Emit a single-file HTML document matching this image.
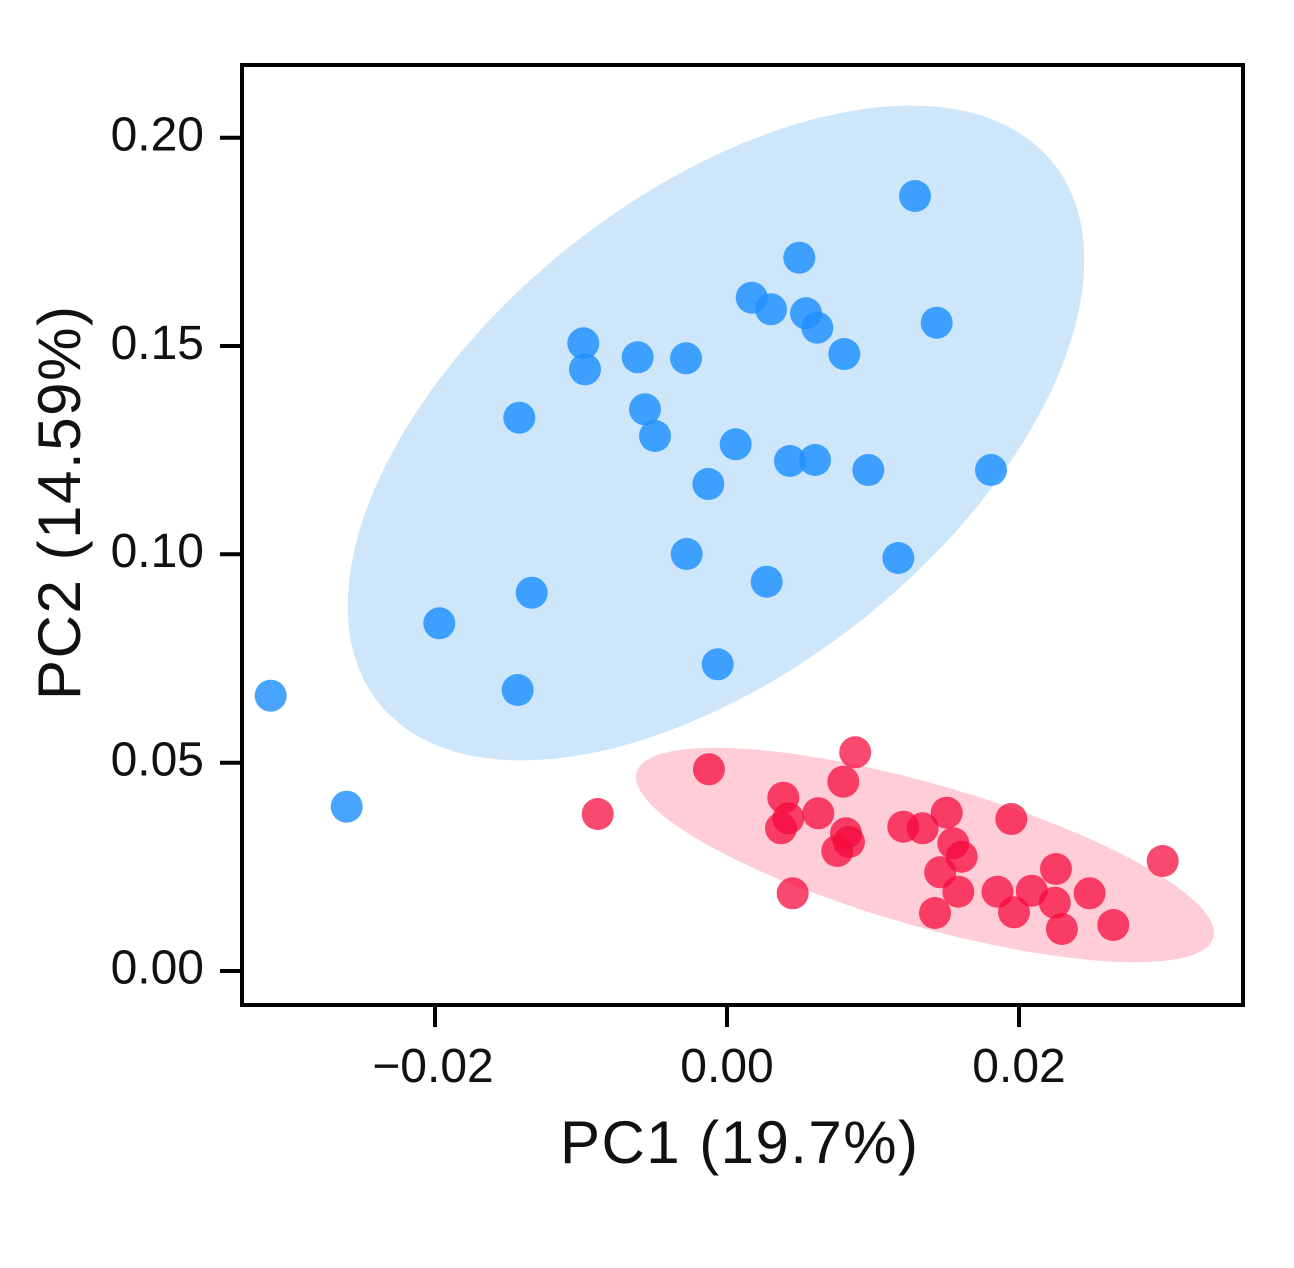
<!DOCTYPE html>
<html>
<head>
<meta charset="utf-8">
<style>
html,body{margin:0;padding:0;background:#fff;}
svg{display:block;}
text{font-family:"Liberation Sans","DejaVu Sans",sans-serif;fill:#111;}
</style>
</head>
<body>
<svg width="1294" height="1268" viewBox="0 0 1294 1268" xmlns="http://www.w3.org/2000/svg">
<rect x="0" y="0" width="1294" height="1268" fill="#fff"/>
<ellipse cx="716" cy="433" rx="432" ry="237" transform="rotate(-38.7 716 433)" fill="#cde6fa"/>
<ellipse cx="925" cy="855" rx="300" ry="71" transform="rotate(16 925 855)" fill="#ffcdd7"/>
<g fill="rgb(30,144,255)" fill-opacity="0.82">
<circle cx="915" cy="196" r="16"/>
<circle cx="799.3" cy="257.7" r="16"/>
<circle cx="751.7" cy="297.7" r="16"/>
<circle cx="771" cy="309.3" r="16"/>
<circle cx="806" cy="313.3" r="16"/>
<circle cx="817.3" cy="327.7" r="16"/>
<circle cx="844.3" cy="354" r="16"/>
<circle cx="936.7" cy="322.7" r="16"/>
<circle cx="583.3" cy="343.3" r="16"/>
<circle cx="585" cy="369.3" r="16"/>
<circle cx="637.7" cy="357.3" r="16"/>
<circle cx="686" cy="358.3" r="16"/>
<circle cx="519.3" cy="417.7" r="16"/>
<circle cx="645" cy="409.3" r="16"/>
<circle cx="655" cy="436" r="16"/>
<circle cx="735.7" cy="444.3" r="16"/>
<circle cx="790" cy="461" r="16"/>
<circle cx="815" cy="460" r="16"/>
<circle cx="868.3" cy="470" r="16"/>
<circle cx="991" cy="470" r="16"/>
<circle cx="708.3" cy="484" r="16"/>
<circle cx="686.7" cy="554" r="16"/>
<circle cx="898.3" cy="558" r="16"/>
<circle cx="766.7" cy="581.7" r="16"/>
<circle cx="531.7" cy="592.7" r="16"/>
<circle cx="439.3" cy="623.3" r="16"/>
<circle cx="717.7" cy="664.3" r="16"/>
<circle cx="517.7" cy="690" r="16"/>
<circle cx="270.7" cy="695.7" r="16"/>
<circle cx="346.7" cy="806.7" r="16"/>
</g>
<g fill="rgb(245,10,60)" fill-opacity="0.74">
<circle cx="597.7" cy="814" r="16"/>
<circle cx="708.9" cy="769.3" r="16"/>
<circle cx="855.2" cy="752.3" r="16"/>
<circle cx="843.3" cy="781.7" r="16"/>
<circle cx="783.3" cy="797.7" r="16"/>
<circle cx="781" cy="828.3" r="16"/>
<circle cx="788.3" cy="818.3" r="16"/>
<circle cx="818.3" cy="813.3" r="16"/>
<circle cx="846" cy="833.3" r="16"/>
<circle cx="837.3" cy="851" r="16"/>
<circle cx="849" cy="842" r="16"/>
<circle cx="903.3" cy="826.7" r="16"/>
<circle cx="922.7" cy="828.3" r="16"/>
<circle cx="946.7" cy="812.7" r="16"/>
<circle cx="1011.3" cy="819" r="16"/>
<circle cx="953.3" cy="843.3" r="16"/>
<circle cx="961.7" cy="856.7" r="16"/>
<circle cx="940.2" cy="872.3" r="16"/>
<circle cx="958.3" cy="891.7" r="16"/>
<circle cx="792.7" cy="893.3" r="16"/>
<circle cx="935" cy="913" r="16"/>
<circle cx="997.5" cy="891.7" r="16"/>
<circle cx="1014" cy="912.3" r="16"/>
<circle cx="1031.8" cy="890.7" r="16"/>
<circle cx="1056" cy="869" r="16"/>
<circle cx="1054.8" cy="902.7" r="16"/>
<circle cx="1061.9" cy="929" r="16"/>
<circle cx="1089.6" cy="893.3" r="16"/>
<circle cx="1113.3" cy="925" r="16"/>
<circle cx="1162.7" cy="861" r="16"/>
</g>
<rect x="242" y="65" width="1001" height="940" fill="none" stroke="#000" stroke-width="4"/>
<g stroke="#000" stroke-width="4">
<line x1="220" y1="137.7" x2="242" y2="137.7"/>
<line x1="220" y1="346" x2="242" y2="346"/>
<line x1="220" y1="554.3" x2="242" y2="554.3"/>
<line x1="220" y1="762.7" x2="242" y2="762.7"/>
<line x1="220" y1="971" x2="242" y2="971"/>
<line x1="435" y1="1005" x2="435" y2="1027"/>
<line x1="727" y1="1005" x2="727" y2="1027"/>
<line x1="1019" y1="1005" x2="1019" y2="1027"/>
</g>
<g font-size="48" text-anchor="end">
<text x="204" y="150.5">0.20</text>
<text x="204" y="358.8">0.15</text>
<text x="204" y="567">0.10</text>
<text x="204" y="775.3">0.05</text>
<text x="204" y="983.6">0.00</text>
</g>
<g font-size="48" text-anchor="middle">
<text x="433" y="1082">−0.02</text>
<text x="727" y="1082">0.00</text>
<text x="1019" y="1082">0.02</text>
</g>
<text x="560" y="1163" font-size="60" textLength="358" lengthAdjust="spacing">PC1 (19.7%)</text>
<text transform="translate(80,700) rotate(-90)" x="0" y="0" font-size="60" textLength="394" lengthAdjust="spacing">PC2 (14.59%)</text>
</svg>
</body>
</html>
